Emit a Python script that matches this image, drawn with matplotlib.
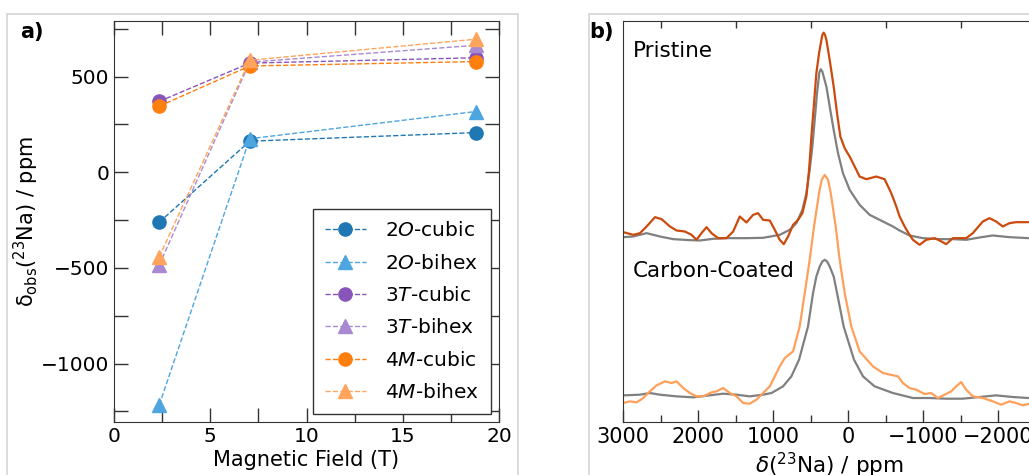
import matplotlib
matplotlib.use("Agg")
import matplotlib.pyplot as plt
from matplotlib.patches import Rectangle
from matplotlib.ticker import MultipleLocator

# ---------------- Panel a data ----------------
field = [2.35, 7.05, 18.8]
series_labels = ["2$\\it{O}$-cubic", "2$\\it{O}$-bihex", "3$\\it{T}$-cubic",
                 "3$\\it{T}$-bihex", "4$\\it{M}$-cubic", "4$\\it{M}$-bihex"]
shift_2O_cubic = [-261, 162, 207]
shift_2O_bihex = [-1216, 175, 317]
shift_3T_cubic = [370, 570, 598]
shift_3T_bihex = [-485, 575, 663]
shift_4M_cubic = [345, 555, 578]
shift_4M_bihex = [-442, 585, 695]
series_colors = ["#1f77b4", "#4da6e0", "#8856bb", "#a98ad2", "#ff7f0e", "#ffa45c"]
series_markers = ["o", "^", "o", "^", "o", "^"]

# ---------------- Panel b data (ppm, arbitrary intensity) ----------------
pristine_ppm = [3000, 2867, 2778, 2689, 2578, 2489, 2378, 2290, 2179, 2090,
                2024, 1957, 1890, 1824, 1735, 1624, 1535, 1447, 1358, 1269,
                1203, 1136, 1047, 980, 914, 861, 803, 736, 670, 612,
                559, 523, 492, 457, 426, 390, 359, 345, 328, 310, 292, 248,
                195, 150, 106, 48, -18, -85, -151, -240, -373, -484,
                -573, -640, -684, -751, -817, -862, -950, -1039, -1150, -1217,
                -1305, -1394, -1483, -1572, -1660, -1794, -1882, -1971, -2060, -2149,
                -2237, -2402]
pristine_int = [570, 562, 567, 587, 615, 609, 587, 575, 572, 562,
                547, 567, 585, 567, 552, 552, 572, 617, 599, 622,
                627, 607, 605, 577, 547, 534, 557, 592, 607, 627,
                677, 757, 857, 957, 1047, 1107, 1147, 1163, 1169, 1162, 1147, 1087,
                1007, 927, 857, 822, 797, 767, 737, 729, 737, 729,
                687, 647, 617, 587, 562, 547, 532, 547, 552, 545,
                534, 552, 552, 552, 567, 602, 612, 602, 587, 597,
                600, 600]

pristine_sim_ppm = [3000, 2867, 2689, 2512, 2334, 2112, 1979, 1802, 1624, 1358,
                    1136, 914, 781, 692, 612, 559, 515, 479, 448, 417,
                    386, 368, 346, 292, 248, 195, 137, 71, -18, -151,
                    -285, -462, -595, -684, -817, -995, -1217, -1394, -1572, -1749,
                    -1927, -2149, -2402]
pristine_sim_int = [555, 557, 567, 557, 549, 546, 545, 550, 552, 552,
                    553, 562, 577, 597, 637, 687, 757, 827, 907, 987,
                    1050, 1059, 1052, 1007, 947, 877, 807, 747, 697, 652,
                    622, 602, 587, 575, 560, 552, 549, 549, 547, 554,
                    560, 555, 552]

coated_ppm = [3000, 2911, 2822, 2734, 2645, 2556, 2445, 2356, 2290, 2201,
              2112, 2024, 1935, 1824, 1757, 1668, 1580, 1491, 1402, 1313,
              1225, 1180, 1047, 914, 847, 736, 648, 581, 515, 457,
              390, 355, 314, 270, 234, 168, 115, 48, -40, -151, -329, -462,
              -662, -728, -817, -906, -1017, -1106, -1194, -1283, -1372, -1438,
              -1505, -1572, -1660, -1794, -1927, -2038, -2149, -2237, -2326, -2402]
coated_int = [57, 62, 59, 72, 92, 110, 122, 117, 122, 102,
              87, 77, 77, 89, 92, 102, 87, 77, 57, 55,
              67, 77, 107, 167, 192, 212, 287, 387, 487, 587,
              687, 727, 742, 727, 687, 587, 487, 387, 287, 212, 167, 147,
              137, 117, 102, 97, 84, 87, 72, 82, 92, 107,
              120, 97, 77, 72, 62, 52, 62, 57, 50, 54]

coated_sim_ppm = [3000, 2778, 2645, 2512, 2290, 2068, 1890, 1668, 1491, 1313,
                  1136, 1025, 870, 759, 657, 537, 470, 426, 381, 346, 314, 283,
                  248, 195, 150, 62, -76, -196, -351, -595, -862, -1083,
                  -1305, -1527, -1749, -1971, -2193, -2402]
coated_sim_int = [80, 82, 87, 82, 77, 74, 79, 85, 82, 77,
                  82, 87, 107, 137, 187, 287, 387, 437, 467, 482, 487, 482,
                  467, 437, 387, 287, 187, 137, 107, 87, 72, 72,
                  70, 70, 75, 80, 75, 72]

plt.rcParams["font.family"] = ["DejaVu Sans"]
plt.rcParams["mathtext.fontset"] = "dejavusans"

W, H = 1029, 475
fig = plt.figure(figsize=(W / 100, H / 100), dpi=100)

# light frames around each panel
fig.patches.append(Rectangle((7 / W, -0.1), (518 - 7) / W, (H - 14) / H + 0.1,
                             transform=fig.transFigure, fill=False,
                             edgecolor="#d4d4d4", lw=1.2))
fig.patches.append(Rectangle((589 / W, -0.1), 0.6, (H - 14) / H + 0.1,
                             transform=fig.transFigure, fill=False,
                             edgecolor="#d4d4d4", lw=1.2))

spine_col = "#333333"

# ---------------- Panel a ----------------
axa = fig.add_axes([114 / W, (H - 422) / H, (499 - 114) / W, (422 - 21) / H])
all_series = [shift_2O_cubic, shift_2O_bihex, shift_3T_cubic,
              shift_3T_bihex, shift_4M_cubic, shift_4M_bihex]
for vals, lab, col, mk in zip(all_series, series_labels, series_colors, series_markers):
    axa.plot(field, vals, linestyle="--", marker=mk, color=col, lw=1.0,
             markersize=9.5, label=lab)
axa.set_xlim(0, 20)
axa.set_ylim(-1305, 790)
axa.xaxis.set_major_locator(MultipleLocator(5))
axa.xaxis.set_minor_locator(MultipleLocator(2.5))
axa.yaxis.set_major_locator(MultipleLocator(500))
axa.yaxis.set_minor_locator(MultipleLocator(250))
axa.tick_params(which="both", direction="in", top=True, right=True,
                labelsize=14.5, color=spine_col)
axa.tick_params(which="major", length=10, width=1)
axa.tick_params(which="minor", length=10, width=1)
for s in axa.spines.values():
    s.set_color(spine_col)
axa.set_xlabel("Magnetic Field (T)", fontsize=15, labelpad=3)
axa.set_ylabel("δ$_{\\mathrm{obs}}$($^{23}$Na) / ppm", fontsize=15, labelpad=0)
leg = axa.legend(loc="lower right", fontsize=14.5, fancybox=False, framealpha=1,
                 edgecolor=spine_col, handlelength=2.0, borderaxespad=0.4,
                 labelspacing=0.66, handletextpad=0.95, borderpad=0.6)
leg.get_frame().set_linewidth(1.0)
fig.text(20 / W, 1 - 32 / H, "a)", fontsize=15, fontweight="bold", va="center")

# ---------------- Panel b ----------------
x0 = 623.3
right_ppm = -2500
px_per_ppm = 75 / 1000
width_px = (3000 - right_ppm) * px_per_ppm
axb = fig.add_axes([x0 / W, (H - 422) / H, width_px / W, (422 - 21) / H])
kw = dict(lw=1.6, solid_joinstyle="round", solid_capstyle="round")
axb.plot(pristine_sim_ppm, pristine_sim_int, color="#808080", **kw)
axb.plot(pristine_ppm, pristine_int, color="#cc4a0c", **kw)
axb.plot(coated_sim_ppm, coated_sim_int, color="#808080", **kw)
axb.plot(coated_ppm, coated_int, color="#ffa05a", **kw)
axb.set_xlim(3000, right_ppm)
axb.set_ylim(0, 1204)
axb.set_yticks([])
axb.xaxis.set_major_locator(MultipleLocator(1000))
axb.xaxis.set_minor_locator(MultipleLocator(500))
axb.tick_params(axis="x", which="major", direction="in", length=9, width=1,
                labelsize=15, color=spine_col, top=False)
axb.tick_params(axis="x", which="minor", direction="in", length=5, width=1,
                color=spine_col, top=True)
for s in axb.spines.values():
    s.set_color(spine_col)
axb.set_xlabel("$\\mathit{\\delta}$($^{23}$Na) / ppm", fontsize=15.5, labelpad=3)
axb.text(0.0234, 0.910, "Pristine", transform=axb.transAxes, fontsize=15.5,
         va="baseline")
axb.text(0.0234, 0.3616, "Carbon-Coated", transform=axb.transAxes, fontsize=15.5,
         va="baseline")
fig.text(589 / W, 1 - 32 / H, "b)", fontsize=15, fontweight="bold", va="center")

fig.savefig("out.png", dpi=100)
